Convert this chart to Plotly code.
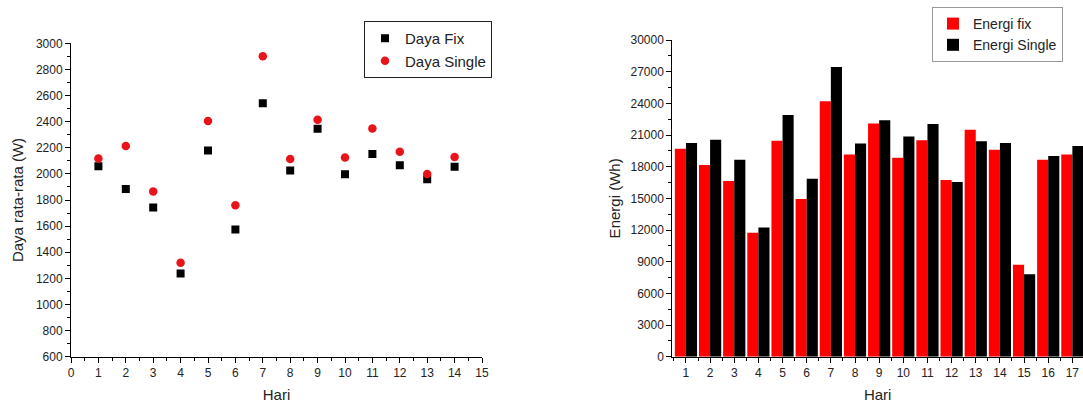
import plotly.graph_objects as go

# ---------------- data ----------------
days_power = list(range(1, 15))
daya_fix = [2058, 1885, 1743, 1238, 2180, 1575, 2540, 2026, 2345, 1998, 2153, 2066, 1958, 2054]
daya_single = [2118, 2213, 1865, 1320, 2405, 1760, 2900, 2114, 2415, 2126, 2348, 2170, 1999, 2130]

days_energy = list(range(1, 18))
energi_fix = [19700, 18150, 16650, 11750, 20450, 14950, 24200, 19150, 22100, 18850,
              20500, 16750, 21500, 19600, 8700, 18650, 19150]
energi_single = [20250, 20550, 18650, 12250, 22900, 16850, 27450, 20200, 22400, 20850,
                 22050, 16550, 20400, 20250, 7800, 19000, 19950]

power_xticks = list(range(0, 16))
power_yticks = list(range(600, 3001, 200))
energy_yticks = list(range(0, 30001, 3000))

FONT = "Liberation Sans, Arial, sans-serif"
W, H = 1083, 405


def px(x):
    return x / W


def py(y):
    return (H - y) / H


fig = go.Figure()

fig.add_trace(go.Scatter(
    x=days_power, y=daya_fix, mode="markers", name="Daya Fix",
    marker=dict(symbol="square", size=8, color="#000000"),
    xaxis="x", yaxis="y", legend="legend"))
fig.add_trace(go.Scatter(
    x=days_power, y=daya_single, mode="markers", name="Daya Single",
    marker=dict(symbol="circle", size=8.5, color="#e8141a"),
    xaxis="x", yaxis="y", legend="legend"))

fig.add_trace(go.Bar(
    x=days_energy, y=energi_fix, name="Energi fix",
    marker=dict(color="#ff0000", line=dict(width=0)),
    xaxis="x2", yaxis="y2", legend="legend2"))
fig.add_trace(go.Bar(
    x=days_energy, y=energi_single, name="Energi Single",
    marker=dict(color="#000000", line=dict(width=0)),
    xaxis="x2", yaxis="y2", legend="legend2"))

axis_common = dict(
    showline=True, linecolor="#000000", linewidth=1,
    ticks="outside", ticklen=5, tickwidth=1, tickcolor="#000000",
    showgrid=False, zeroline=False, automargin=False,
    ticklabeloverflow="allow",
    tickfont=dict(family=FONT, size=12, color="#222222"),
)

fig.update_layout(
    width=W, height=H,
    margin=dict(l=0, r=0, t=0, b=0),
    paper_bgcolor="white", plot_bgcolor="white",
    font=dict(family=FONT, color="#222222"),
    barmode="group", bargap=0.08, bargroupgap=0,
    xaxis=dict(
        domain=[px(71), px(482)], anchor="y", range=[0, 15],
        tickvals=power_xticks,
        minor=dict(dtick=0.5, tick0=0, ticks="outside", ticklen=3, tickcolor="#000000"),
        title=dict(text="Hari", font=dict(family=FONT, size=15), standoff=10),
        **axis_common),
    yaxis=dict(
        domain=[py(356.7), py(43.3)], anchor="x", range=[600, 3000],
        tickvals=power_yticks,
        minor=dict(dtick=100, tick0=0, ticks="outside", ticklen=3, tickcolor="#000000"),
        title=dict(text="Daya rata-rata (W)", font=dict(family=FONT, size=15), standoff=8),
        **axis_common),
    xaxis2=dict(
        domain=[px(672.3), 1.0], anchor="y2", range=[0.435, 17.44],
        tickvals=days_energy,
        minor=dict(dtick=1, tick0=0.5, ticks="outside", ticklen=3, tickcolor="#000000"),
        title=dict(text="Hari", font=dict(family=FONT, size=15), standoff=10),
        **axis_common),
    yaxis2=dict(
        domain=[py(356.7), py(40)], anchor="x2", range=[0, 30000],
        tickvals=energy_yticks, ticktext=[str(v) for v in energy_yticks],
        minor=dict(dtick=1500, tick0=0, ticks="outside", ticklen=3, tickcolor="#000000"),
        title=dict(text="Energi (Wh)", font=dict(family=FONT, size=15), standoff=6),
        **axis_common),
    legend=dict(
        x=px(364), y=py(21), xanchor="left", yanchor="top",
        bordercolor="#222222", borderwidth=1, bgcolor="white",
        font=dict(family=FONT, size=15, color="#222222"),
        tracegroupgap=0),
    legend2=dict(
        x=px(932), y=py(7), xanchor="left", yanchor="top",
        bordercolor="#999999", borderwidth=1, bgcolor="white",
        font=dict(family=FONT, size=14, color="#222222"),
        tracegroupgap=0),
)

fig.write_html(
    "out.html",
    config={"displayModeBar": False},
    post_script="document.body.style.margin='0';document.body.style.overflow='hidden';",
)
